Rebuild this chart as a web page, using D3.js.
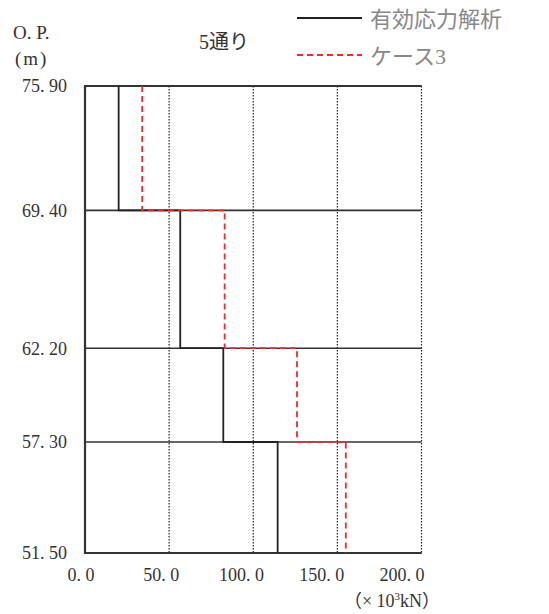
<!DOCTYPE html>
<html>
<head>
<meta charset="utf-8">
<script src="https://cdn.jsdelivr.net/npm/d3@7"></script>
<style>
  body { margin: 0; background: #fff; }
  text { font-family: "Liberation Serif", "Noto Sans CJK JP", serif; fill: #333; }
</style>
</head>
<body>
<svg id="chart"></svg>
<script>
var width = 549;
var height = 614;

// elevations (O.P. m), top to bottom
var levels = [75.90, 69.40, 62.20, 57.30, 51.50];
var levelLabels = ["75. 90", "69. 40", "62. 20", "57. 30", "51. 50"];

// shear force per layer (x10^3 kN)
var analysis = [20.0, 56.6, 82.2, 114.5];
var case3 = [34.0, 83.0, 126.0, 155.0];

var xTicks = [0, 50, 100, 150, 200];
var xTickLabels = ["0. 0", "50. 0", "100. 0", "150. 0", "200. 0"];
var gridX = [50, 100, 150, 200];

var svg = d3.select("#chart")
    .attr("width", width)
    .attr("height", height);

var x = d3.scaleLinear().domain([0, 200]).range([85, 421.5]);
var y = d3.scaleLinear().domain([75.90, 51.50]).range([86, 553]);
// the tick labels sit a bit tighter than the ticks themselves
var xLabel = d3.scaleLinear().domain([0, 200]).range([81, 402]);

// dotted verticals
svg.selectAll(".vgrid")
    .data(gridX)
    .enter()
    .append("line")
    .attr("x1", function (d) { return x(d); })
    .attr("x2", function (d) { return x(d); })
    .attr("y1", y(75.90))
    .attr("y2", y(51.50))
    .attr("stroke", "#222")
    .attr("stroke-width", 1.2)
    .attr("stroke-dasharray", "1.5,1.5");

// solid horizontals at each level
svg.selectAll(".hgrid")
    .data(levels)
    .enter()
    .append("line")
    .attr("x1", x(0))
    .attr("x2", x(200))
    .attr("y1", function (d) { return y(d); })
    .attr("y2", function (d) { return y(d); })
    .attr("stroke", "#333")
    .attr("stroke-width", 1.6);

// frame (left, top, bottom)
svg.append("path")
    .attr("d", "M" + x(200) + "," + y(75.90) + "H" + x(0) + "V" + y(51.50) + "H" + x(200))
    .attr("fill", "none")
    .attr("stroke", "#333")
    .attr("stroke-width", 2.2);

function stepPoints(vals) {
    var pts = [];
    for (var i = 0; i < vals.length; i++) {
        pts.push([vals[i], levels[i]]);
        pts.push([vals[i], levels[i + 1]]);
    }
    return pts;
}

var line = d3.line()
    .x(function (d) { return x(d[0]); })
    .y(function (d) { return y(d[1]); });

svg.append("path")
    .attr("d", line(stepPoints(analysis)))
    .attr("fill", "none")
    .attr("stroke", "#222")
    .attr("stroke-width", 1.8);

svg.append("path")
    .attr("d", line(stepPoints(case3)))
    .attr("fill", "none")
    .attr("stroke", "#ee2a2a")
    .attr("stroke-width", 1.8)
    .attr("stroke-dasharray", "6,4");

// y labels
svg.selectAll(".ylab")
    .data(levels)
    .enter()
    .append("text")
    .attr("x", 67)
    .attr("y", function (d) { return y(d); })
    .attr("dy", "0.35em")
    .attr("text-anchor", "end")
    .attr("font-size", "18px")
    .text(function (d, i) { return levelLabels[i]; });

// x labels
svg.selectAll(".xlab")
    .data(xTicks)
    .enter()
    .append("text")
    .attr("x", function (d) { return xLabel(d); })
    .attr("y", 575)
    .attr("dy", "0.35em")
    .attr("text-anchor", "middle")
    .attr("font-size", "18px")
    .text(function (d, i) { return xTickLabels[i]; });

var unit = svg.append("text")
    .attr("x", 392)
    .attr("y", 601)
    .attr("dy", "0.35em")
    .attr("text-anchor", "middle")
    .attr("font-size", "18px");
unit.append("tspan").text("（× 10");
unit.append("tspan").attr("font-size", "11px").attr("dy", "-7").text("3");
unit.append("tspan").attr("dy", "7").text("kN）");

svg.append("text")
    .attr("x", 13)
    .attr("y", 32)
    .attr("dy", "0.35em")
    .attr("font-size", "19px")
    .text("O. P.");

svg.append("text")
    .attr("x", 15)
    .attr("y", 58)
    .attr("dy", "0.35em")
    .attr("font-size", "19px")
    .attr("letter-spacing", "2px")
    .text("(m)");

// title
svg.append("text")
    .attr("x", 224)
    .attr("y", 42)
    .attr("dy", "0.35em")
    .attr("text-anchor", "middle")
    .attr("font-size", "20px")
    .attr("fill", "#222")
    .text("5通り");

// legend
var legendItems = [
    { label: "有効応力解析", color: "#222", dash: null, y: 18 },
    { label: "ケース3", color: "#ee2a2a", dash: "6,4", y: 55 }
];

var legend = svg.selectAll(".legend")
    .data(legendItems)
    .enter()
    .append("g");

legend.append("line")
    .attr("x1", 297)
    .attr("x2", 362)
    .attr("y1", function (d) { return d.y; })
    .attr("y2", function (d) { return d.y; })
    .attr("stroke", function (d) { return d.color; })
    .attr("stroke-width", 2)
    .attr("stroke-dasharray", function (d) { return d.dash; });

legend.append("text")
    .attr("x", 370)
    .attr("y", function (d) { return d.y + 1; })
    .attr("dy", "0.35em")
    .attr("font-size", "22px")
    .style("fill", "#888")
    .text(function (d) { return d.label; });
</script>
</body>
</html>
